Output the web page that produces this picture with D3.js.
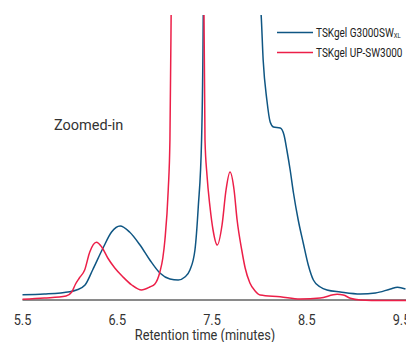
<!DOCTYPE html>
<meta charset="utf-8">
<script src="https://d3js.org/d3.v7.min.js"></script>
<style>
  body { margin: 0; background: #fff; }
</style>
<svg id="chart" width="406" height="342"></svg>
<script>

// retention time (minutes) and detector signal (arbitrary units)
const timeG3000 = [5.5, 5.73, 6.0, 6.07, 6.16, 6.24, 6.35, 6.44, 6.53, 6.63, 6.74, 6.844, 6.95, 7.056, 7.143, 7.214, 7.267, 7.32, 7.355, 7.39, 7.408, 7.43, 7.6, 7.85, 7.97, 8.018, 8.04, 8.079, 8.114, 8.149, 8.22, 8.26, 8.29, 8.325, 8.36, 8.41, 8.463, 8.516, 8.57, 8.643, 8.714, 8.854, 9.066, 9.225, 9.384, 9.458, 9.542]
const signalG3000 = [5.3, 6, 8.3, 10, 15, 30, 52, 68, 74, 68, 55, 40, 27, 21, 20, 23, 30, 50, 93, 160, 290, 1000, 600, 420, 320, 286, 240, 200, 178, 173, 172, 165, 150, 130, 107, 80, 57, 35, 20, 13, 10, 8, 6, 7, 11, 12.7, 11]

const timeUP = [5.5, 5.73, 5.96, 6.02, 6.06, 6.1, 6.156, 6.21, 6.28, 6.336, 6.4, 6.474, 6.558, 6.653, 6.756, 6.844, 6.897, 6.95, 6.981, 7.003, 7.038, 7.056, 7.07, 7.1, 7.25, 7.4, 7.415, 7.426, 7.447, 7.479, 7.511, 7.556, 7.606, 7.648, 7.69, 7.733, 7.765, 7.814, 7.85, 7.9, 7.955, 8.008, 8.22, 8.43, 8.643, 8.82, 8.886, 8.96, 9.066, 9.3, 9.55]
const signalUP = [0.7, 2, 4, 8, 16, 22, 30, 48, 57.7, 53, 42, 32, 23.3, 15, 10, 13, 16, 28, 42, 60, 110, 160, 300, 700, 1200, 700, 290, 160, 125, 93, 70, 55, 75, 110, 128, 110, 80, 50, 32, 17, 9, 5, 3.3, 1, 2, 5.7, 5, 1.7, 0, -0.5, -0.5]

const xTicks = [5.5, 6.5, 7.5, 8.5, 9.5]
const seriesNames = ["TSKgel G3000SW", "TSKgel UP-SW3000"]
const seriesColors = ["#0f5683", "#ec1f48"]

const svg = d3.select("#chart")
const font = "Roboto, sans-serif"

const x = d3.scaleLinear().domain([5.5, 9.5]).range([22.5, 401.5])
const y = d3.scaleLinear().domain([0, 285]).range([300, 15])

// clip so the big peaks run off the top
svg.append("clipPath").attr("id", "clip")
  .append("rect").attr("x", 0).attr("y", 15).attr("width", 406).attr("height", 300)

// baseline
svg.append("line")
  .attr("x1", x(5.5)).attr("x2", 406)
  .attr("y1", y(0)).attr("y2", y(0))
  .attr("stroke", "#8a8a8a")
  .attr("stroke-width", 1.8)

const line = d3.line()
  .x(d => x(d[0]))
  .y(d => y(d[1]))
  .curve(d3.curveMonotoneX)

const series = [
  d3.zip(timeG3000, signalG3000),
  d3.zip(timeUP, signalUP)
]

svg.append("g").attr("clip-path", "url(#clip)")
  .selectAll("path")
  .data(series)
  .join("path")
    .attr("d", line)
    .attr("fill", "none")
    .attr("stroke", (d, i) => seriesColors[i])
    .attr("stroke-width", 1.5)

// the original uses a condensed face, so squeeze Roboto sideways
svg.append("g")
  .selectAll("text")
  .data(xTicks)
  .join("text")
    .attr("transform", d => `translate(${x(d)},325) scale(0.82,1)`)
    .attr("text-anchor", "middle")
    .style("font-family", font)
    .style("font-size", "15.5px")
    .attr("fill", "#333")
    .text(d => d.toFixed(1))

svg.append("text")
  .attr("transform", "translate(205,339.5) scale(0.88,1)")
  .attr("text-anchor", "middle")
  .style("font-family", font)
  .style("font-size", "14.5px")
  .attr("fill", "#333")
  .text("Retention time (minutes)")

svg.append("text")
  .attr("x", 54)
  .attr("y", 129.5)
  .style("font-family", font)
  .style("font-size", "14.5px")
  .attr("fill", "#333")
  .text("Zoomed-in")

// legend
const legend = svg.append("g")
  .selectAll("g")
  .data(seriesNames)
  .join("g")
    .attr("transform", (d, i) => `translate(277,${32.5 + i * 20})`)

legend.append("line")
  .attr("x1", 0).attr("x2", 36)
  .attr("stroke", (d, i) => seriesColors[i])
  .attr("stroke-width", 1.5)

const legendText = legend.append("text")
  .attr("transform", "translate(39,4) scale(0.8,1)")
  .style("font-family", font)
  .style("font-size", "12.5px")
  .attr("fill", "#222")
  .text(d => d)

legendText.filter((d, i) => i === 0)
  .append("tspan")
  .attr("dy", 1)
  .style("font-size", "7.5px")
  .text("XL")

</script>
